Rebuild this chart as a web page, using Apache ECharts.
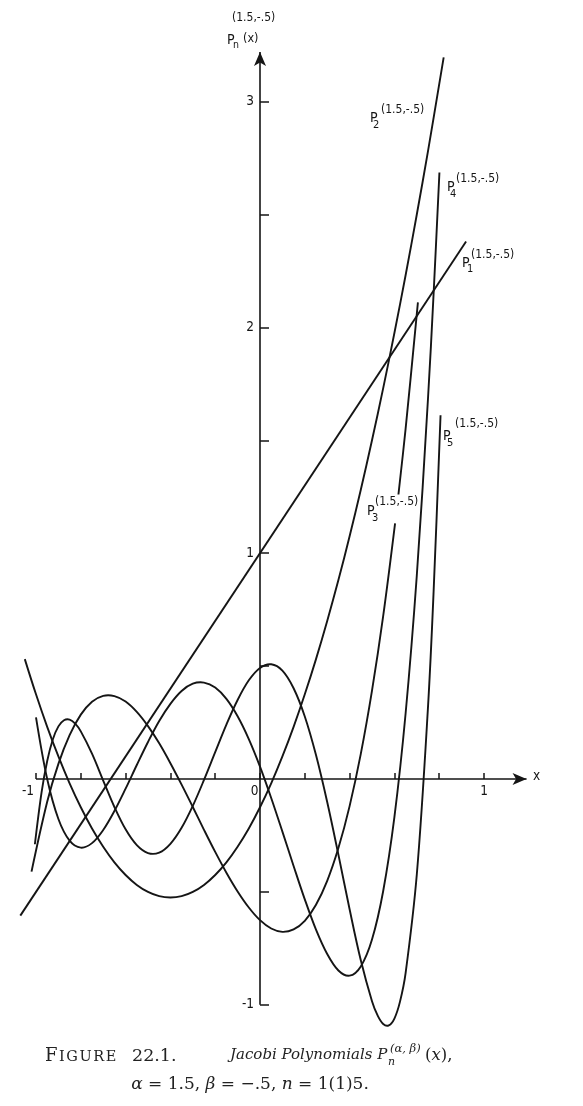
<!DOCTYPE html>
<html><head><meta charset="utf-8">
<script src="https://cdn.jsdelivr.net/npm/echarts@6/dist/echarts.min.js"></script>
<style>html,body{margin:0;padding:0;background:#fff;}#c{width:583px;height:1106px;}</style>
</head><body><div id="c"></div>
<script>
// ---- data (x, P_n(x)) ----
const p1Data = [[-1.07,-0.605],[0.92,2.38]];
const p2Data = [[-1.05,0.531],[-1.0,0.375],[-0.95,0.231],[-0.9,0.1],[-0.85,-0.019],[-0.8,-0.125],[-0.75,-0.219],[-0.7,-0.3],[-0.65,-0.369],[-0.6,-0.425],[-0.55,-0.469],[-0.5,-0.5],[-0.45,-0.519],[-0.4,-0.525],[-0.35,-0.519],[-0.3,-0.5],[-0.25,-0.469],[-0.2,-0.425],[-0.15,-0.369],[-0.1,-0.3],[-0.05,-0.219],[0,-0.125],[0.05,-0.019],[0.1,0.1],[0.15,0.231],[0.2,0.375],[0.25,0.531],[0.3,0.7],[0.35,0.881],[0.4,1.075],[0.45,1.281],[0.5,1.5],[0.55,1.731],[0.6,1.975],[0.65,2.231],[0.7,2.5],[0.75,2.781],[0.82,3.196]];
const p3Data = [[-1.02,-0.41],[-0.95,-0.101],[-0.9,0.067],[-0.85,0.194],[-0.8,0.285],[-0.75,0.342],[-0.7,0.368],[-0.65,0.367],[-0.6,0.343],[-0.55,0.297],[-0.5,0.234],[-0.45,0.158],[-0.4,0.07],[-0.35,-0.025],[-0.3,-0.124],[-0.25,-0.225],[-0.2,-0.323],[-0.15,-0.415],[-0.1,-0.498],[-0.05,-0.569],[0,-0.625],[0.05,-0.662],[0.1,-0.677],[0.15,-0.666],[0.2,-0.628],[0.25,-0.557],[0.3,-0.451],[0.35,-0.306],[0.4,-0.12],[0.45,0.111],[0.5,0.391],[0.55,0.722],[0.603,1.132],[0.61,'-'],[0.618,1.26],[0.65,1.551],[0.705,2.111]];
const p4Data = [[-1.0,0.273],[-0.95,0.0],[-0.9,-0.177],[-0.85,-0.273],[-0.8,-0.304],[-0.75,-0.284],[-0.7,-0.226],[-0.65,-0.142],[-0.6,-0.043],[-0.55,0.062],[-0.5,0.164],[-0.45,0.257],[-0.4,0.333],[-0.35,0.39],[-0.3,0.422],[-0.25,0.427],[-0.2,0.405],[-0.15,0.355],[-0.1,0.278],[-0.05,0.177],[0,0.055],[0.05,-0.084],[0.1,-0.233],[0.15,-0.385],[0.2,-0.533],[0.25,-0.667],[0.3,-0.775],[0.35,-0.848],[0.4,-0.871],[0.45,-0.83],[0.5,-0.711],[0.55,-0.496],[0.6,-0.169],[0.65,0.29],[0.7,0.901],[0.75,1.685],[0.775,2.149],[0.801,2.686]];
const p5Data = [[-1.005,-0.289],[-0.975,-0.058],[-0.95,0.08],[-0.925,0.175],[-0.9,0.233],[-0.875,0.26],[-0.85,0.263],[-0.825,0.245],[-0.8,0.211],[-0.75,0.112],[-0.7,-0.007],[-0.65,-0.124],[-0.6,-0.223],[-0.55,-0.293],[-0.5,-0.328],[-0.45,-0.326],[-0.4,-0.287],[-0.35,-0.216],[-0.3,-0.119],[-0.25,-0.004],[-0.2,0.119],[-0.15,0.241],[-0.1,0.35],[-0.05,0.437],[0,0.492],[0.05,0.508],[0.1,0.48],[0.15,0.402],[0.2,0.277],[0.25,0.106],[0.3,-0.102],[0.35,-0.335],[0.4,-0.577],[0.45,-0.803],[0.5,-0.984],[0.525,-1.047],[0.55,-1.085],[0.575,-1.091],[0.6,-1.061],[0.625,-0.986],[0.65,-0.86],[0.7,-0.423],[0.75,0.319],[0.775,0.829],[0.806,1.611]];
const seriesNames = ['P1','P2','P3','P4','P5'];
const xTickValues = [-1,-0.8,-0.6,-0.4,-0.2,0,0.2,0.4,0.6,0.8,1];
const xTickLabels = [-1,0,1];
const yTickValues = [-1,-0.5,0.5,1,1.5,2,2.5,3];
const yTickLabels = [-1,1,2,3];
const curveLabelSub = ['1','2','3','4','5'];
const curveLabelSup = '(1.5,-.5)';

const INK = '#151515';
const LFONT = '"Liberation Sans Narrow","DejaVu Sans Condensed","Liberation Sans",sans-serif';
const SERIF = '"DejaVu Serif",serif';

// lettering placement (pixels)
const labelPos = {
  '1': {p:[462,256], s:[467,264], u:[471,249]},
  '2': {p:[370,111], s:[373,120], u:[381,104]},
  '3': {p:[367,504], s:[372,513], u:[375,496]},
  '4': {p:[447,180], s:[450,189], u:[456,173]},
  '5': {p:[443,429], s:[447,438], u:[455,418]}
};

const chart = echarts.init(document.getElementById('c'), null, {renderer:'canvas'});
const datasets = [p1Data,p2Data,p3Data,p4Data,p5Data];

function curveSeries(name, arr){
  return {
    name:name, type:'custom', coordinateSystem:'cartesian2d', data:arr, clip:false, silent:true, z:3,
    encode:{x:0, y:1},
    renderItem:function(params, api){
      if (params.dataIndex !== 0) return null;
      const segs = []; let cur = [];
      arr.forEach(function(p){
        if (typeof p[1] !== 'number') { if (cur.length) segs.push(cur); cur = []; }
        else cur.push(api.coord(p));
      });
      if (cur.length) segs.push(cur);
      return {type:'group', children: segs.map(function(pts){
        return {type:'polyline', shape:{points:pts, smooth:0.35}, style:{stroke:INK, lineWidth:1.9, fill:null, lineJoin:'round'}};
      })};
    }
  };
}
const series = datasets.map(function(d,i){ return curveSeries(seriesNames[i], d); });
series.push({
  name:'axes', type:'line', data:[], silent:true, z:2,
  markLine:{
    silent:true, animation:false, label:{show:false}, emphasis:{disabled:true},
    lineStyle:{color:INK, width:1.6, type:'solid'},
    data:[
      [{coord:[-1,0], symbol:'none'},{coord:[1.19,0], symbol:'arrow', symbolSize:[9,14]}],
      [{coord:[0,-1], symbol:'none'},{coord:[0,3.22], symbol:'arrow', symbolSize:[9,14]}]
    ]
  }
});

// tick labels, positioned on the axes through the scales (custom text marks)
function tickLabelSeries(name, values, isX){
  return {
    name:name, type:'custom', coordinateSystem:'cartesian2d', clip:false, silent:true, z:5,
    data: values.map(function(v){ return isX ? [v,0] : [0,v]; }),
    encode:{x:0, y:1},
    renderItem:function(params, api){
      const v = isX ? api.value(0) : api.value(1);
      const pt = api.coord([api.value(0), api.value(1)]);
      const shift = isX ? (v === -1 ? -8 : (v === 0 ? -5.5 : 0)) : 0;
      return {type:'text', x: isX ? pt[0] + shift : pt[0] - 6, y: isX ? pt[1] + 5 : pt[1],
        style:{text: v < 0 ? '-1' : String(v), fill:INK, font:'13.5px '+LFONT,
          align: isX ? 'center' : 'right', verticalAlign: isX ? 'top' : 'middle'}};
    }
  };
}
series.push(tickLabelSeries('xTickLabels', xTickLabels, true));
series.push(tickLabelSeries('yTickLabels', yTickLabels, false));

const graphic = [];
function txt(x,y,text,size,extra){
  graphic.push({type:'text', x:x, y:y, z:100, silent:true,
    style:Object.assign({text:text, fill:INK, font: size+'px '+LFONT, verticalAlign:'top', align:'left'}, extra||{})});
}
curveLabelSub.forEach(function(n){
  const lp = labelPos[n];
  txt(lp.u[0],lp.u[1],curveLabelSup,12);
  txt(lp.p[0],lp.p[1],'P',14);
  txt(lp.s[0],lp.s[1],n,11);
});
// y axis name
txt(232,12,'(1.5,-.5)',12);
txt(227,33,'P',14);
txt(233,40,'n',10.5);
txt(243,32,'(x)',12.5);
// x axis name
txt(533,769,'x',13.5);

// caption
const CAP = '#222';
graphic.push({type:'text', x:45, y:1047, z:100, silent:true, style:{
  text:'{a|F}{b|I}{b|G}{b|U}{b|R}{b|E}', fill:CAP, verticalAlign:'top',
  rich:{a:{font:'18px '+SERIF, fill:CAP, padding:[0,1.5,0,0]}, b:{font:'14.5px '+SERIF, fill:CAP, padding:[3,1.6,0,0]}}}});
graphic.push({type:'text', x:132, y:1047, z:100, silent:true, style:{text:'22.1.', fill:CAP, font:'17.5px '+SERIF, verticalAlign:'top'}});
graphic.push({type:'text', x:230, y:1048, z:100, silent:true, style:{text:'Jacobi Polynomials P', fill:CAP, font:'italic 15px '+SERIF, verticalAlign:'top'}});
graphic.push({type:'text', x:390, y:1043, z:100, silent:true, style:{text:'(α, β)', fill:CAP, font:'italic 11.5px '+SERIF, verticalAlign:'top'}});
graphic.push({type:'text', x:388, y:1057, z:100, silent:true, style:{text:'n', fill:CAP, font:'italic 11px '+SERIF, verticalAlign:'top'}});
graphic.push({type:'text', x:425, y:1047, z:100, silent:true, style:{
  text:'{n|(}{i|x}{n|),}', fill:CAP, verticalAlign:'top',
  rich:{n:{font:'16.5px '+SERIF, fill:CAP}, i:{font:'italic 16.5px '+SERIF, fill:CAP}}}});
graphic.push({type:'text', x:250, y:1076, z:100, silent:true, style:{
  text:'{i|α}{n| = 1.5, }{i|β}{n| = −.5, }{i|n}{n| = 1(1)5.}', fill:CAP, align:'center', verticalAlign:'top',
  rich:{n:{font:'17px '+SERIF, fill:CAP}, i:{font:'italic 17px '+SERIF, fill:CAP}}}});

chart.setOption({
  animation:false,
  backgroundColor:'#fff',
  grid:{left:2.4, right:43, top:22.57, bottom:78.62, containLabel:false, outerBoundsMode:'none'},
  xAxis:{type:'value', min:-1.15, max:1.25,
    axisLine:{show:false, onZero:true},
    splitLine:{show:false},
    axisTick:{show:true, inside:true, length:6, customValues:xTickValues, lineStyle:{color:INK, width:1.5}},
    axisLabel:{show:false}
  },
  yAxis:{type:'value', min:-1.1, max:3.35,
    axisLine:{show:false, onZero:true},
    splitLine:{show:false},
    axisTick:{show:true, inside:true, length:9, customValues:yTickValues, lineStyle:{color:INK, width:1.5}},
    axisLabel:{show:false}
  },
  graphic: graphic,
  series: series
});
</script></body></html>
